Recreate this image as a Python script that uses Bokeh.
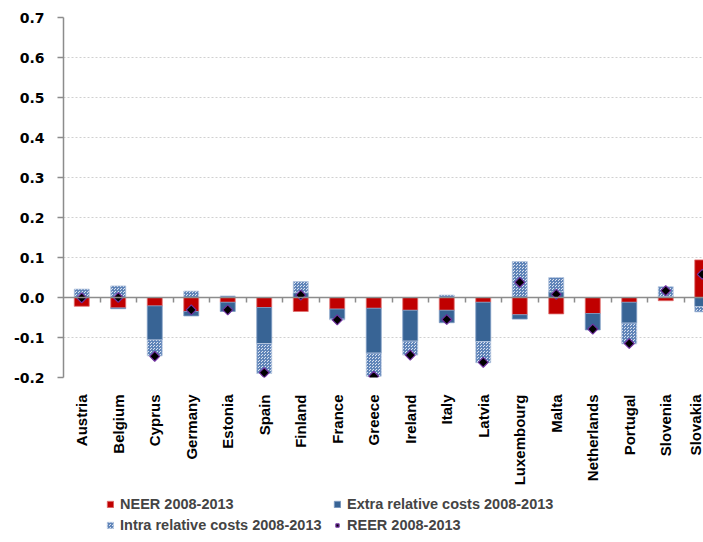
import numpy as np
from bokeh.plotting import figure
from bokeh.layouts import column
from bokeh.models import (Range1d, FixedTicker, LinearAxis, Legend, LegendItem,
                          ColumnDataSource, PrintfTickFormatter)
from bokeh.embed import file_html
from bokeh.resources import INLINE

countries = ["Austria", "Belgium", "Cyprus", "Germany", "Estonia", "Spain",
             "Finland", "France", "Greece", "Ireland", "Italy", "Latvia",
             "Luxembourg", "Malta", "Netherlands", "Portugal", "Slovenia", "Slovakia"]
neer = [-0.022, -0.026, -0.021, -0.035, -0.012, -0.025, -0.035, -0.029, -0.027,
        -0.032, -0.032, -0.012, -0.043, -0.041, -0.040, -0.012, -0.008, 0.094]
extra = [0.000, -0.002, -0.085, -0.011, -0.023, -0.090, 0.012, -0.025, -0.112,
         -0.077, -0.031, -0.098, -0.011, 0.014, -0.041, -0.052, 0.002, -0.023]
intra = [0.021, 0.029, -0.040, 0.016, 0.004, -0.075, 0.028, -0.002, -0.058,
         -0.035, 0.006, -0.053, 0.090, 0.036, 0.000, -0.052, 0.025, -0.013]
reer = [-0.001, 0.000, -0.147, -0.031, -0.031, -0.188, 0.006, -0.056, -0.197,
        -0.144, -0.055, -0.162, 0.038, 0.008, -0.079, -0.115, 0.017, 0.058]
y_ticks = [-0.2, -0.1, 0.0, 0.1, 0.2, 0.3, 0.4, 0.5, 0.6, 0.7]
series_labels = ["NEER 2008-2013", "Extra relative costs 2008-2013",
                 "Intra relative costs 2008-2013", "REER 2008-2013"]

RED, BLUE = "#c00000", "#386495"
red_style = dict(fill_color=RED, line_color="#e07070", line_width=0.8)
blue_style = dict(fill_color=BLUE, line_color="#7f9cc4", line_width=0.8)
intra_style = dict(fill_color="#d9e2f0", hatch_pattern="criss_cross", hatch_color="#5f84b8",
                   hatch_scale=3, hatch_weight=1, line_color="#b8c8e0", line_width=0.8)
reer_style = dict(marker="square", angle=np.pi / 4, size=7,
                  fill_color="black", line_color="#7030a0", line_width=1.2)

n = len(countries)
x = np.arange(n) + 0.5

# Excel-style stacking: positives stack up, negatives stack down
pos = np.zeros(n)
neg = np.zeros(n)
stacks = []
for vals in (neer, extra, intra):
    v = np.array(vals)
    bottom = np.where(v >= 0, pos, neg)
    top = bottom + v
    pos = np.where(v >= 0, top, pos)
    neg = np.where(v < 0, top, neg)
    stacks.append(ColumnDataSource(dict(x=x, bottom=bottom, top=top)))

p = figure(width=703, height=490, output_backend="svg", toolbar_location=None,
           x_range=Range1d(0, 640 / 36.5), y_range=Range1d(-0.2, 0.7),
           min_border_left=63, min_border_right=0, min_border_top=17,
           min_border_bottom=113)
p.outline_line_color = None
p.background_fill_color = "white"

p.vbar(x="x", bottom="bottom", top="top", width=0.41, source=stacks[0], **red_style)
p.vbar(x="x", bottom="bottom", top="top", width=0.41, source=stacks[1], **blue_style)
p.vbar(x="x", bottom="bottom", top="top", width=0.41, source=stacks[2], **intra_style)
p.scatter(x=x, y=reer, **reer_style)

# y axis
p.yaxis.ticker = FixedTicker(ticks=y_ticks)
p.yaxis.formatter = PrintfTickFormatter(format="%.1f")
p.yaxis.major_label_text_font = "DejaVu Sans"
p.yaxis.major_label_text_font_style = "bold"
p.yaxis.major_label_text_font_size = "14px"
p.yaxis.major_label_text_color = "black"
p.yaxis.major_label_standoff = 13
p.yaxis.axis_line_color = "#8c8c8c"
p.yaxis.axis_line_width = 1.5
p.yaxis.major_tick_line_color = "#8c8c8c"
p.yaxis.major_tick_line_width = 1.5
p.yaxis.major_tick_out = 6
p.yaxis.major_tick_in = 0
p.yaxis.minor_tick_line_color = None

p.ygrid.ticker = FixedTicker(ticks=y_ticks)
p.ygrid.grid_line_color = "#d0d0d0"
p.ygrid.grid_line_dash = "2 2"
p.xgrid.grid_line_color = None

# category labels axis at bottom
p.xaxis.ticker = FixedTicker(ticks=list(x))
p.xaxis.major_label_overrides = {float(xx): c for xx, c in zip(x, countries)}
p.xaxis.major_label_orientation = np.pi / 2
p.xaxis.major_label_text_font = "Liberation Sans"
p.xaxis.major_label_text_font_style = "bold"
p.xaxis.major_label_text_font_size = "15px"
p.xaxis.major_label_text_color = "black"
p.xaxis.major_label_standoff = 11
p.xaxis.axis_line_color = None
p.xaxis.major_tick_line_color = None
p.xaxis.minor_tick_line_color = None

# zero line axis with category separator ticks
zax = LinearAxis(fixed_location=0, ticker=FixedTicker(ticks=list(range(1, n))),
                 major_label_text_color=None, major_label_text_font_size="1px",
                 major_label_standoff=0,
                 major_tick_in=5, major_tick_out=0, minor_tick_line_color=None,
                 axis_line_color="#8c8c8c", axis_line_width=1.5,
                 major_tick_line_color="#8c8c8c", major_tick_line_width=1.5)
p.add_layout(zax, "above")

# legend strip below the chart (proxy renderers lie outside the visible range)
lg = figure(width=703, height=52, output_backend="svg", toolbar_location=None,
            x_range=Range1d(0, 1), y_range=Range1d(0, 1),
            x_axis_type=None, y_axis_type=None, min_border=0)
lg.outline_line_color = None
lg.xgrid.grid_line_color = None
lg.ygrid.grid_line_color = None
proxy = dict(x=[5.0], top=[6.0], bottom=[5.0])
l_neer = lg.vbar(x="x", top="top", bottom="bottom", width=0.4, source=ColumnDataSource(proxy), **red_style)
l_extra = lg.vbar(x="x", top="top", bottom="bottom", width=0.4, source=ColumnDataSource(proxy), **blue_style)
l_intra = lg.vbar(x="x", top="top", bottom="bottom", width=0.4, source=ColumnDataSource(proxy), **intra_style)
l_reer = lg.scatter(x=[5.0], y=[5.0], **reer_style)

legend = Legend(items=[LegendItem(label=series_labels[0], renderers=[l_neer]),
                       LegendItem(label=series_labels[1], renderers=[l_extra]),
                       LegendItem(label=series_labels[2], renderers=[l_intra]),
                       LegendItem(label=series_labels[3], renderers=[l_reer])],
                orientation="horizontal", ncols=2, location=(43, 8),
                glyph_width=8, glyph_height=8, label_standoff=6, label_width=210,
                label_height=18, spacing=3, padding=0, margin=0,
                label_text_font="Liberation Sans", label_text_font_style="bold",
                label_text_font_size="14.5px", border_line_color=None,
                background_fill_alpha=0)
lg.add_layout(legend, "center")

layout = column(p, lg, spacing=0)
open("out.html", "w").write(file_html(layout, INLINE))
